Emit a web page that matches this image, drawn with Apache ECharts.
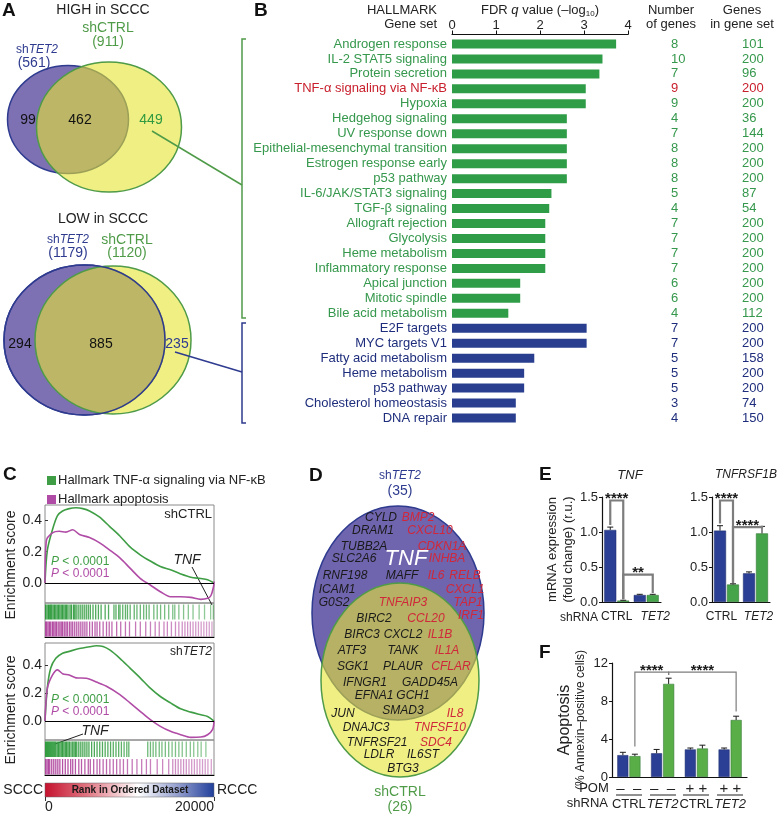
<!DOCTYPE html>
<html>
<head>
<meta charset="utf-8">
<script src="https://cdn.jsdelivr.net/npm/echarts@6/dist/echarts.min.js"></script>
<style>
  html, body { margin: 0; padding: 0; background: #fff; }
  #chart { width: 778px; height: 821px; }
</style>
</head>
<body>
<div id="chart"></div>
<script>
// ---------- panel A: venn counts
const highTotals = [561, 911];          // shTET2, shCTRL
const highParts = [99, 462, 449];       // TET2 only, both, CTRL only
const lowTotals = [1179, 1120];
const lowParts = [294, 885, 235];

// ---------- panel B: hallmark gene sets
const geneSets = ['Androgen response', 'IL-2 STAT5 signaling', 'Protein secretion', 'TNF-α signaling via NF-κB',
  'Hypoxia', 'Hedgehog signaling', 'UV response down', 'Epithelial-mesenchymal transition',
  'Estrogen response early', 'p53 pathway', 'IL-6/JAK/STAT3 signaling', 'TGF-β signaling',
  'Allograft rejection', 'Glycolysis', 'Heme metabolism', 'Inflammatory response', 'Apical junction',
  'Mitotic spindle', 'Bile acid metabolism', 'E2F targets', 'MYC targets V1', 'Fatty acid metabolism',
  'Heme metabolism', 'p53 pathway', 'Cholesterol homeostasis', 'DNA repair'];
const fdrLog = [3.73, 3.42, 3.35, 3.04, 3.04, 2.61, 2.61, 2.61, 2.61, 2.61, 2.26, 2.21, 2.12, 2.12, 2.12, 2.12,
  1.55, 1.55, 1.28, 3.06, 3.06, 1.87, 1.64, 1.64, 1.45, 1.45];
const setGroup = ['high', 'high', 'high', 'high', 'high', 'high', 'high', 'high', 'high', 'high', 'high', 'high',
  'high', 'high', 'high', 'high', 'high', 'high', 'high', 'low', 'low', 'low', 'low', 'low', 'low', 'low'];
const nGenes = [8, 10, 7, 9, 9, 4, 7, 8, 8, 8, 5, 4, 7, 7, 7, 7, 6, 6, 4, 7, 7, 5, 5, 5, 3, 4];
const setSize = [101, 200, 96, 200, 200, 36, 144, 200, 200, 200, 87, 54, 200, 200, 200, 200, 200, 200, 112,
  200, 200, 158, 200, 200, 74, 150];
const highlightSet = 3;

// ---------- panel C: running enrichment scores [rank, ES]
const esTnfCtrl = [[0, 0], [280, 0.21], [880, 0.34], [1480, 0.43], [2080, 0.46], [2870, 0.475], [3670, 0.48],
  [4470, 0.475], [5270, 0.46], [6470, 0.42], [7660, 0.36], [8860, 0.30], [10060, 0.23], [11260, 0.18],
  [12460, 0.14], [13650, 0.105], [14850, 0.084], [16050, 0.058], [17250, 0.037], [18440, 0.028],
  [19240, 0.02], [20000, 0]];
const esApoCtrl = [[0, 0], [160, 0.27], [880, 0.32], [1680, 0.33], [2480, 0.325], [3280, 0.34], [4080, 0.31],
  [5270, 0.29], [6470, 0.256], [7660, 0.21], [8860, 0.16], [10060, 0.095], [11260, 0.03], [12460, -0.013],
  [13650, -0.056], [14850, -0.088], [16050, -0.088], [17250, -0.092], [18440, -0.105], [19240, -0.098],
  [19640, -0.08], [19960, -0.02], [20000, 0.01]];
const esTnfTet2 = [[0, 0], [280, 0.24], [680, 0.38], [1280, 0.45], [2080, 0.486], [2870, 0.50], [4070, 0.52],
  [5270, 0.533], [6070, 0.54], [6870, 0.535], [7660, 0.51], [8860, 0.45], [10060, 0.38], [11260, 0.31],
  [12460, 0.236], [13650, 0.176], [14850, 0.13], [16050, 0.088], [17250, 0.064], [18440, 0.045],
  [19240, 0.033], [20000, 0]];
const esApoTet2 = [[0, 0], [280, 0.236], [880, 0.33], [1480, 0.367], [2080, 0.34], [2870, 0.33], [3670, 0.31],
  [4870, 0.307], [6070, 0.28], [7270, 0.25], [8860, 0.19], [10060, 0.13], [11260, 0.07], [12460, 0.01],
  [13650, -0.038], [14850, -0.074], [16050, -0.098], [17250, -0.117], [18440, -0.115], [19240, -0.098],
  [19840, -0.06], [20000, 0]];

// gene hit positions (rank)
const hitsTnfCtrl = [80, 240, 400, 560, 680, 800, 960, 1120, 1280, 1440, 1600, 1760, 1920, 2080, 2240, 2400, 2560,
  2720, 2960, 3120, 3360, 3520, 3680, 3920, 4160, 4400, 4640, 4880, 5120, 5360, 5680, 6000, 6320, 6640, 7120,
  7520, 8160, 8400, 8720, 8880, 9200, 9520, 9760, 10080, 10560, 10880, 11280, 11680, 12000, 12320, 12880,
  13280, 13680, 14160, 14640, 15120, 15360, 15840, 16400, 16960, 17520, 18240, 18880, 19600, 19920];
const hitsApoCtrl = [80, 200, 360, 520, 680, 880, 1040, 1200, 1360, 1560, 1760, 1920, 2080, 2280, 2480, 2640,
  2880, 3080, 3280, 3520, 3760, 4000, 4240, 4480, 4720, 4960, 5280, 5600, 5920, 6160, 6480, 6880, 7280, 7600,
  7920, 8480, 8960, 9520, 10000, 10720, 11280, 11920, 12480, 13040, 13520, 14080, 14480, 14960, 15440, 15840,
  16240, 16560, 16880, 17200, 17520, 17840, 18160, 18480, 18800, 19120, 19440, 19760];
const hitsTnfTet2 = [80, 200, 320, 440, 560, 680, 800, 920, 1040, 1160, 1280, 1440, 1600, 1760, 1920, 2080,
  2240, 2400, 2560, 2720, 2880, 3080, 3280, 3440, 3600, 3760, 4000, 4240, 4480, 4720, 4960, 5200, 5520, 5840,
  6160, 6480, 6800, 7120, 7440, 7760, 8080, 8400, 8720, 9040, 9360, 9680, 9920, 12160, 12480, 12800, 13120,
  13520, 13840, 14240, 14640, 15040, 15440, 15840, 16240, 16720, 17200, 17600, 18080, 18480, 19040];
const hitsApoTet2 = [80, 240, 400, 560, 800, 1040, 1280, 1520, 1760, 2080, 2400, 2720, 3040, 3280, 3600, 4000,
  4320, 4720, 5120, 5360, 5760, 6160, 6480, 6880, 7280, 7680, 8080, 8480, 8880, 9280, 9760, 10320, 10880,
  11440, 12000, 12480, 13280, 13920, 14640, 15120, 15440, 15760, 16080, 16400, 16720, 17040, 17360, 17680,
  18000, 18320, 18640, 18960, 19280, 19680];

// ---------- panel D: overlapping TNF-α/NF-κB genes
const dGenes = ['CYLD', 'BMP2', 'DRAM1', 'CXCL10', 'TUBB2A', 'CDKN1A', 'SLC2A6', 'TNF', 'INHBA', 'RNF198', 'MAFF',
  'IL6', 'RELB', 'ICAM1', 'CXCL1', 'G0S2', 'TNFAIP3', 'TAP1', 'BIRC2', 'CCL20', 'IRF1', 'BIRC3', 'CXCL2', 'IL1B',
  'ATF3', 'TANK', 'IL1A', 'SGK1', 'PLAUR', 'CFLAR', 'IFNGR1', 'GADD45A', 'EFNA1', 'GCH1', 'SMAD3', 'JUN', 'IL8',
  'DNAJC3', 'TNFSF10', 'TNFRSF21', 'SDC4', 'LDLR', 'IL6ST', 'BTG3'];
const dRedGenes = ['BMP2', 'CXCL10', 'CDKN1A', 'INHBA', 'IL6', 'RELB', 'CXCL1', 'TNFAIP3', 'TAP1', 'CCL20', 'IRF1',
  'IL1B', 'IL1A', 'CFLAR', 'IL8', 'TNFSF10', 'SDC4'];
const dTotals = [35, 26];

// ---------- panel E: qPCR
const eCats = ['CTRL', 'TET2'];
const tnfBlue = [1.03, 0.10], tnfBlueErr = [0.04, 0.01];
const tnfGreen = [0.02, 0.10], tnfGreenErr = [0.005, 0.01];
const tnfrBlue = [1.02, 0.41], tnfrBlueErr = [0.07, 0.02];
const tnfrGreen = [0.25, 0.98], tnfrGreenErr = [0.01, 0.10];

// ---------- panel F: apoptosis
const fCats = ['CTRL', 'TET2', 'CTRL', 'TET2'];
const fPom = ['–  –', '–  –', '+ +', '+ +'];
const apoBlue = [2.3, 2.5, 2.9, 2.9], apoBlueErr = [0.3, 0.4, 0.15, 0.15];
const apoGreen = [2.2, 9.8, 3.0, 6.0], apoGreenErr = [0.2, 0.6, 0.35, 0.4];

// significance brackets: [cat0, side0, cat1, side1, top, leftEnd, rightEnd]
const tnfBrackets = [[0, -1, 0, 1, 1.45, 1.1, 0.04], [0, 1, 1, 1, 0.39, 0.04, 0.13]];
const tnfBracketLabels = ['****', '**'];
const tnfrBrackets = [[0, -1, 0, 1, 1.45, 1.12, 0.27], [0, 1, 1, 1, 1.07, 0.27, 1.09]];
const tnfrBracketLabels = ['****', '****'];
const apoBrackets = [[0, 1, 1, 1, 11.05, 3.2, 10.75], [1, 1, 3, 1, 11.05, 10.75, 6.9]];
const apoBracketLabels = ['****', '****'];

// ---------------------------------------------------------------
const FONT = '"Liberation Sans", Arial, Helvetica, sans-serif';
const GREEN = '#2f9c48', BLUE = '#293e8f', RED = '#c8202d';
const GREEN_TXT = '#35984c', BLUE_TXT = '#1f2e7c';
const LINE_G = '#3f9e45', LINE_P = '#b04ca6';
const BAR_B = '#2b3f94', BAR_G = '#45a449';

function rowColor(i) {
  if (i === highlightSet) return RED;
  return setGroup[i] === 'high' ? GREEN_TXT : BLUE_TXT;
}

function txt(text, x, y, opt, rotation) {
  return {
    type: 'text', x: x, y: y, rotation: rotation || 0, silent: true,
    style: Object.assign({ text: text, fontFamily: FONT, fontSize: 13, fill: '#222', align: 'center', verticalAlign: 'middle' }, opt || {})
  };
}
function line(x1, y1, x2, y2, color, w) {
  return { type: 'line', silent: true, shape: { x1, y1, x2, y2 }, style: { stroke: color, lineWidth: w || 1 } };
}
function ell(cx, cy, rx, ry, fill, stroke, w) {
  return { type: 'ellipse', silent: true, shape: { cx, cy, rx, ry }, style: { fill: fill, stroke: stroke, lineWidth: w || 1.5 } };
}
function letter(l, x, y) {
  return txt(l, x, y, { fontSize: 19, fontWeight: 'bold', fill: '#111', align: 'left' });
}
const shTet2Rich = { a: { fontFamily: FONT }, b: { fontFamily: FONT, fontStyle: 'italic' } };
const pRich = { i: { fontStyle: 'italic', fontFamily: FONT }, t: { fontFamily: FONT } };

// ---------- venn / annotation graphics
const YELLOW_A = 'rgba(230,228,50,0.6)';
const graphics = [
  letter('A', 2, 11), letter('B', 254, 11), letter('C', 3, 475), letter('D', 309, 476),
  letter('E', 539, 475), letter('F', 539, 653),

  // A high
  txt('HIGH in SCCC', 103, 10, { fontSize: 14 }),
  ell(68, 119.5, 60.5, 54, '#7d71b4', '#2e3b8f'),
  ell(109, 127, 72.5, 65, YELLOW_A, '#4f9b48'),
  txt('shCTRL', 108, 28, { fontSize: 14, fill: '#4f9b48' }),
  txt('(' + highTotals[1] + ')', 108, 42, { fontSize: 14, fill: '#4f9b48' }),
  txt('{a|sh}{b|TET2}', 37, 50, { fontSize: 14, fill: '#2e3b8f', rich: shTet2Rich }),
  txt('(' + highTotals[0] + ')', 34, 63, { fontSize: 14, fill: '#2e3b8f' }),
  txt(String(highParts[0]), 28, 120, { fontSize: 14, fill: '#111' }),
  txt(String(highParts[1]), 80, 120, { fontSize: 14, fill: '#111' }),
  txt(String(highParts[2]), 151, 120, { fontSize: 14, fill: '#2f9a3f' }),
  line(152, 131, 242, 185, '#4f9b48', 1.5),

  // A low
  txt('LOW in SCCC', 103, 219, { fontSize: 14 }),
  ell(84.5, 340, 80.5, 75, '#7d71b4', '#2e3b8f'),
  ell(113, 340, 78, 74, YELLOW_A, '#4f9b48'),
  ell(84.5, 340, 80.5, 75, null, '#2e3b8f'),
  txt('{a|sh}{b|TET2}', 68, 240, { fontSize: 14, fill: '#2e3b8f', rich: shTet2Rich }),
  txt('(' + lowTotals[0] + ')', 68, 253, { fontSize: 14, fill: '#2e3b8f' }),
  txt('shCTRL', 127, 240, { fontSize: 14, fill: '#4f9b48' }),
  txt('(' + lowTotals[1] + ')', 127, 253, { fontSize: 14, fill: '#4f9b48' }),
  txt(String(lowParts[0]), 20, 344, { fontSize: 14, fill: '#111' }),
  txt(String(lowParts[1]), 101, 344, { fontSize: 14, fill: '#111' }),
  txt(String(lowParts[2]), 177, 344, { fontSize: 14, fill: '#2e3b8f' }),
  line(175, 352, 242, 372, '#2e3b8f', 1.5),

  // B brackets + headers
  { type: 'polyline', silent: true, shape: { points: [[246, 39], [242, 39], [242, 318], [246, 318]] }, style: { stroke: '#4f9b48', lineWidth: 1.5, fill: null } },
  { type: 'polyline', silent: true, shape: { points: [[246, 323], [242, 323], [242, 423], [246, 423]] }, style: { stroke: '#2e3b8f', lineWidth: 1.5, fill: null } },
  txt('HALLMARK', 437, 10, { align: 'right' }),
  txt('Gene set', 437, 24, { align: 'right' }),
  txt('{t|FDR }{i|q}{t| value (–log}{s|10}{t|)}', 540, 10, {
    rich: {
      t: { fontSize: 13, fontFamily: FONT, fill: '#222', lineHeight: 16 },
      i: { fontSize: 13, fontFamily: FONT, fill: '#222', fontStyle: 'italic', lineHeight: 16 },
      s: { fontSize: 8, fontFamily: FONT, fill: '#222', lineHeight: 16, verticalAlign: 'bottom' }
    }
  }),
  txt('Number', 671, 10), txt('of genes', 671, 24),
  txt('Genes', 742, 10), txt('in gene set', 742, 24),

  // C annotations
  txt('{i|P}{t| < 0.0001}', 51, 562, { align: 'left', fontSize: 14, fill: LINE_G, rich: pRich }),
  txt('{i|P}{t| < 0.0001}', 51, 574, { align: 'left', fontSize: 14, fill: LINE_P, rich: pRich }),
  txt('{i|P}{t| < 0.0001}', 51, 700, { align: 'left', fontSize: 14, fill: LINE_G, rich: pRich }),
  txt('{i|P}{t| < 0.0001}', 51, 712, { align: 'left', fontSize: 14, fill: LINE_P, rich: pRich }),
  txt('shCTRL', 212, 514, { align: 'right' }),
  txt('{a|sh}{b|TET2}', 212, 652, { align: 'right', rich: shTet2Rich }),
  txt('TNF', 187, 560, { fontStyle: 'italic', fontSize: 14 }),
  line(192, 567, 212, 605, '#222', 1),
  txt('TNF', 95, 731, { fontStyle: 'italic', fontSize: 14 }),
  line(83, 734, 55, 744, '#222', 1),
  txt('Enrichment score', 11, 565, { fontSize: 14 }, Math.PI / 2),
  txt('Enrichment score', 11, 710, { fontSize: 14 }, Math.PI / 2),
  { type: 'rect', silent: true, shape: { x: 45, y: 783, width: 169, height: 14 },
    style: { stroke: '#666', lineWidth: 0.5, fill: { type: 'linear', x: 0, y: 0, x2: 1, y2: 0, colorStops: [
      { offset: 0, color: '#c5122e' }, { offset: 0.25, color: '#e07682' }, { offset: 0.55, color: '#ffffff' },
      { offset: 0.8, color: '#8c98ca' }, { offset: 1, color: '#203f9b' }] } } },
  txt('Rank in Ordered Dataset', 130, 790, { fontSize: 10, fontWeight: 'bold', fill: '#1a1a1a' }),
  txt('SCCC', 43, 790, { fontSize: 14, align: 'right' }),
  txt('RCCC', 217, 790, { fontSize: 14, align: 'left' }),

  // D venn
  ell(398, 613, 86, 107, '#6f64ae', '#2e3b8f'),
  ell(400, 680, 79, 97, YELLOW_A, '#4f9b48'),
  txt('{a|sh}{b|TET2}', 400, 476, { fontSize: 14, fill: '#2e3b8f', rich: shTet2Rich }),
  txt('(' + dTotals[0] + ')', 400, 491, { fontSize: 14, fill: '#2e3b8f' }),
  txt('shCTRL', 400, 792, { fontSize: 14, fill: '#4f9b48' }),
  txt('(' + dTotals[1] + ')', 400, 807, { fontSize: 14, fill: '#4f9b48' }),

  // E titles / labels
  txt('TNF', 630, 475, { fontStyle: 'italic', fontSize: 13 }),
  txt('TNFRSF1B', 777, 475, { fontStyle: 'italic', fontSize: 12, align: 'right' }),
  txt('shRNA', 598, 618, { align: 'right', fontSize: 12 }),

  // F labels
  txt('POM', 594, 788, { fontSize: 13 }),
  txt('shRNA', 608, 803, { align: 'right', fontSize: 13 }),
  line(616, 795, 642, 795, '#222', 1), line(650, 795, 676, 795, '#222', 1),
  line(683, 795, 709, 795, '#222', 1), line(717, 795, 743, 795, '#222', 1)
];

// D gene labels (placement only; names/colours from the arrays above)
const dLayout = [[381, 518], [418, 518], [373, 531], [430, 531], [364, 547], [442, 547], [354, 559], [406, 559],
  [447, 559], [345, 576], [402, 576], [436, 576], [465, 576], [337, 590], [465, 590], [334, 603], [403, 603],
  [468, 603], [374, 619], [426, 619], [471, 616], [362, 635], [403, 635], [440, 635], [352, 651], [403, 651],
  [447, 651], [353, 667], [403, 667], [451, 667], [365, 683], [430, 683], [374, 696], [413, 696], [403, 711],
  [343, 714], [455, 714], [366, 728], [440, 728], [377, 743], [436, 743], [379, 755], [423, 755], [403, 769]];
dGenes.forEach(function (g, i) {
  const big = g === 'TNF';
  graphics.push(txt(g, dLayout[i][0], dLayout[i][1], {
    fontStyle: 'italic', fontSize: big ? 22 : 12,
    fill: big ? '#ffffff' : (dRedGenes.indexOf(g) >= 0 ? '#d0283a' : '#1a1a1a')
  }));
});

// ---------- custom renderers
function hitSeries(xi, yi, tnf, apo) {
  const data = tnf.map(r => [r, 0]).concat(apo.map(r => [r, 1]));
  return {
    type: 'custom', xAxisIndex: xi, yAxisIndex: yi, silent: true, data: data, encode: { x: 0, y: 1 },
    renderItem: function (params, api) {
      const cs = params.coordSys;
      const rank = api.value(0), row = api.value(1);
      const x = api.coord([rank, 0])[0];
      const h = cs.height / 2;
      const y0 = cs.y + row * h + 1.5;
      return {
        type: 'line', shape: { x1: x, y1: y0, x2: x, y2: y0 + h - 2 },
        style: { stroke: row === 0 ? '#2e9a3c' : '#b0479f', lineWidth: 1.3, opacity: 1 - 0.5 * rank / 20000 }
      };
    }
  };
}

function errorSeries(xi, yi, blue, blueErr, green, greenErr, bw, gap) {
  const data = blue.map((v, i) => [i, v, blueErr[i], -1]).concat(green.map((v, i) => [i, v, greenErr[i], 1]));
  return {
    type: 'custom', xAxisIndex: xi, yAxisIndex: yi, silent: true, z: 4, data: data, encode: { x: 0, y: 1 },
    renderItem: function (params, api) {
      const c = api.value(0), v = api.value(1), e = api.value(2), s = api.value(3);
      const p0 = api.coord([c, v]), p1 = api.coord([c, v + e]);
      const x = p0[0] + s * (bw + gap) / 2;
      return {
        type: 'group', children: [
          { type: 'line', shape: { x1: x, y1: p0[1], x2: x, y2: p1[1] }, style: { stroke: '#1a1a1a', lineWidth: 1 } },
          { type: 'line', shape: { x1: x - 3, y1: p1[1], x2: x + 3, y2: p1[1] }, style: { stroke: '#1a1a1a', lineWidth: 1 } }
        ]
      };
    }
  };
}

function bracketSeries(xi, yi, items, labels, bw, gap, lw) {
  return {
    type: 'custom', xAxisIndex: xi, yAxisIndex: yi, silent: true, z: 5, data: items, encode: { x: 0, y: 4 },
    renderItem: function (params, api) {
      const half = (bw + gap) / 2;
      const xa = api.coord([api.value(0), 0])[0] + api.value(1) * half;
      const xb = api.coord([api.value(2), 0])[0] + api.value(3) * half;
      const yt = api.coord([0, api.value(4)])[1];
      const yl = api.coord([0, api.value(5)])[1];
      const yr = api.coord([0, api.value(6)])[1];
      return {
        type: 'group', children: [
          { type: 'polyline', shape: { points: [[xa, yl], [xa, yt], [xb, yt], [xb, yr]] }, style: { stroke: '#7d7d7d', lineWidth: lw, fill: null } },
          { type: 'text', x: (xa + xb) / 2, y: yt + 6, style: { text: labels[params.dataIndex], align: 'center', verticalAlign: 'bottom', fontSize: 15, fontWeight: 'bold', fill: '#1a1a1a', fontFamily: FONT } }
        ]
      };
    }
  };
}

// ---------- axes helpers
function esAxis(grid, min, max) {
  return {
    type: 'value', gridIndex: grid, min: min, max: max,
    axisLine: { show: false }, splitLine: { show: false },
    axisTick: { show: true, inside: true, length: 3, customValues: [0, 0.2, 0.4], lineStyle: { color: '#333' } },
    axisLabel: { customValues: [0, 0.2, 0.4], formatter: v => v.toFixed(1), fontSize: 14, color: '#222', margin: 3, fontFamily: FONT }
  };
}
function hiddenValue(grid, min, max) {
  return { type: 'value', gridIndex: grid, min: min, max: max, show: false, splitLine: { show: false } };
}
function barYAxis(grid, max, interval, fmt, name, nameGap, rich) {
  return {
    type: 'value', gridIndex: grid, min: 0, max: max, interval: interval,
    axisLine: { show: true, lineStyle: { color: '#111', width: 1.2 } },
    axisTick: { show: true, length: 3, lineStyle: { color: '#111' } },
    splitLine: { show: false },
    axisLabel: { fontSize: 13, color: '#222', margin: 4, formatter: fmt, fontFamily: FONT },
    name: name, nameLocation: 'middle', nameGap: nameGap,
    nameTextStyle: { fontSize: 13, color: '#222', lineHeight: 16, fontFamily: FONT, rich: rich }
  };
}
// labelShift spreads the two shRNA labels slightly apart, as in the figure
function catXAxis(grid, cats, labelShift, extra) {
  return Object.assign({
    type: 'category', gridIndex: grid,
    data: cats.map((c, i) => ({
      value: c,
      textStyle: {
        fontStyle: c === 'TET2' ? 'italic' : 'normal',
        padding: labelShift ? (i === 0 ? [0, labelShift[0], 0, 0] : [0, 0, 0, labelShift[1]]) : 0
      }
    })),
    axisLine: { show: true, lineStyle: { color: '#111', width: 1.2 } },
    axisTick: { show: false },
    axisLabel: { fontSize: 12, color: '#222', margin: 9, interval: 0, fontFamily: FONT }
  }, extra || {});
}

const zeroLine = { silent: true, symbol: 'none', label: { show: false }, lineStyle: { color: '#000', width: 1, type: 'solid' }, data: [{ yAxis: 0 }] };
const nameTnf = 'Hallmark TNF-α signaling via NF-κB', nameApo = 'Hallmark apoptosis';

const option = {
  animation: false,
  textStyle: { fontFamily: FONT },
  graphic: graphics,
  legend: {
    data: [nameTnf, nameApo], orient: 'vertical', left: 42, top: 469, itemWidth: 9, itemHeight: 9,
    itemGap: 6, icon: 'rect', selectedMode: false,
    textStyle: { fontSize: 13, color: '#222', fontFamily: FONT, padding: [0, 0, 0, -3] }
  },
  grid: [
    { left: 452, top: 36.5, width: 176, height: 389 },                                   // 0 B
    { left: 45, top: 505, width: 169, height: 98, show: true, borderColor: '#8a8a8a', borderWidth: 1 }, // 1 C ctrl ES
    { left: 45, top: 603, width: 169, height: 34, show: true, borderColor: '#8a8a8a', borderWidth: 1 }, // 2 C ctrl hits
    { left: 45, top: 643, width: 169, height: 97, show: true, borderColor: '#8a8a8a', borderWidth: 1 }, // 3 C tet2 ES
    { left: 45, top: 740, width: 169, height: 35, show: true, borderColor: '#8a8a8a', borderWidth: 1 }, // 4 C tet2 hits
    { left: 45, top: 783, width: 169, height: 14 },                                     // 5 colour bar
    { left: 602, top: 497, width: 59, height: 105 },                                    // 6 E TNF
    { left: 712, top: 497, width: 58, height: 105 },                                    // 7 E TNFRSF1B
    { left: 612, top: 663, width: 135, height: 114 }                                    // 8 F
  ],
  xAxis: [
    {
      type: 'value', gridIndex: 0, position: 'top', min: 0, max: 4, interval: 1, offset: 2,
      axisLine: { show: true, lineStyle: { color: '#111', width: 1.2 } },
      axisTick: { show: true, length: 4, lineStyle: { color: '#111' } },
      splitLine: { show: false },
      axisLabel: { fontSize: 13, color: '#222', margin: 3, fontFamily: FONT }
    },
    hiddenValue(1, 0, 20000),
    Object.assign(hiddenValue(2, 0, 20000), { show: true, position: 'top', axisLine: { show: true, lineStyle: { color: '#000', width: 1 } }, axisTick: { show: false }, axisLabel: { show: false } }),
    hiddenValue(3, 0, 20000),
    Object.assign(hiddenValue(4, 0, 20000), { show: true, position: 'top', axisLine: { show: true, lineStyle: { color: '#000', width: 1 } }, axisTick: { show: false }, axisLabel: { show: false } }),
    {
      type: 'value', gridIndex: 5, min: 0, max: 20000, interval: 20000,
      axisLine: { show: false }, splitLine: { show: false },
      axisTick: { show: true, length: 4, lineStyle: { color: '#333' } },
      axisLabel: { fontSize: 14, color: '#222', margin: 3, alignMinLabel: 'left', alignMaxLabel: 'right', fontFamily: FONT, formatter: v => String(v) }
    },
    catXAxis(6, eCats, [0, 18]),
    catXAxis(7, eCats, [10, 6]),
    catXAxis(8, fCats, null, {
      axisLabel: {
        interval: 0, margin: 4, color: '#222',
        formatter: (v, i) => '{p|' + fPom[i] + '}\n{' + (v === 'TET2' ? 'i' : 'n') + '|' + v + '}',
        rich: {
          p: { fontSize: 15, lineHeight: 15, color: '#222', fontFamily: FONT },
          n: { fontSize: 13, lineHeight: 17, color: '#222', fontFamily: FONT },
          i: { fontSize: 13, lineHeight: 17, color: '#222', fontStyle: 'italic', fontFamily: FONT }
        }
      }
    })
  ],
  yAxis: [
    {
      type: 'category', gridIndex: 0, inverse: true,
      data: geneSets.map((n, i) => ({ value: n, textStyle: { color: rowColor(i) } })),
      axisLine: { show: false }, axisTick: { show: false },
      axisLabel: { fontSize: 13, margin: 5, interval: 0, fontFamily: FONT }
    },
    {
      type: 'category', gridIndex: 0, inverse: true, position: 'right', offset: 0,
      data: nGenes.map((n, i) => ({ value: String(n), textStyle: { color: rowColor(i) } })),
      axisLine: { show: false }, axisTick: { show: false },
      axisLabel: { fontSize: 13, margin: 43, align: 'center', interval: 0, fontFamily: FONT }
    },
    {
      type: 'category', gridIndex: 0, inverse: true, position: 'right', offset: 0,
      data: setSize.map((n, i) => ({ value: String(n), textStyle: { color: rowColor(i) } })),
      axisLine: { show: false }, axisTick: { show: false },
      axisLabel: { fontSize: 13, margin: 114, align: 'center', interval: 0, fontFamily: FONT }
    },
    esAxis(1, -0.128, 0.498),
    hiddenValue(2, 0, 2),
    esAxis(3, -0.136, 0.56),
    hiddenValue(4, 0, 2),
    hiddenValue(5, 0, 1),
    barYAxis(6, 1.5, 0.5, v => v.toFixed(1), 'mRNA expression\n(fold change) (r.u.)', 16),
    barYAxis(7, 1.5, 0.5, v => v.toFixed(1), '', 20),
    barYAxis(8, 12, 4, v => String(v), '{a|Apoptosis}\n{b|(% Annexin–positive cells)}', 24, {
      a: { fontSize: 16, color: '#222', fontFamily: FONT, lineHeight: 18 },
      b: { fontSize: 12, color: '#222', fontFamily: FONT, lineHeight: 14 }
    })
  ],
  series: [
    {
      type: 'bar', xAxisIndex: 0, yAxisIndex: 0, barWidth: 9, silent: true,
      data: fdrLog.map((v, i) => ({ value: v, itemStyle: { color: setGroup[i] === 'high' ? GREEN : BLUE } }))
    },
    { type: 'line', name: nameTnf, xAxisIndex: 1, yAxisIndex: 3, data: esTnfCtrl, showSymbol: false, smooth: 0.3, silent: true,
      lineStyle: { color: LINE_G, width: 1.6 }, itemStyle: { color: LINE_G }, markLine: zeroLine, z: 3 },
    { type: 'line', name: nameApo, xAxisIndex: 1, yAxisIndex: 3, data: esApoCtrl, showSymbol: false, smooth: 0.3, silent: true,
      lineStyle: { color: LINE_P, width: 1.6 }, itemStyle: { color: LINE_P } },
    { type: 'line', name: nameTnf, xAxisIndex: 3, yAxisIndex: 5, data: esTnfTet2, showSymbol: false, smooth: 0.3, silent: true,
      lineStyle: { color: LINE_G, width: 1.6 }, itemStyle: { color: LINE_G }, markLine: zeroLine, z: 3 },
    { type: 'line', name: nameApo, xAxisIndex: 3, yAxisIndex: 5, data: esApoTet2, showSymbol: false, smooth: 0.3, silent: true,
      lineStyle: { color: LINE_P, width: 1.6 }, itemStyle: { color: LINE_P } },
    hitSeries(2, 4, hitsTnfCtrl, hitsApoCtrl),
    hitSeries(4, 6, hitsTnfTet2, hitsApoTet2),

    { type: 'bar', xAxisIndex: 6, yAxisIndex: 8, data: tnfBlue, barWidth: 12, barGap: '8%', silent: true, itemStyle: { color: BAR_B, borderColor: '#1c2a66', borderWidth: 0.5 } },
    { type: 'bar', xAxisIndex: 6, yAxisIndex: 8, data: tnfGreen, barWidth: 12, barGap: '8%', silent: true, itemStyle: { color: BAR_G, borderColor: '#2b6e2e', borderWidth: 0.5 } },
    errorSeries(6, 8, tnfBlue, tnfBlueErr, tnfGreen, tnfGreenErr, 12, 1),
    bracketSeries(6, 8, tnfBrackets, tnfBracketLabels, 12, 1, 2.2),

    { type: 'bar', xAxisIndex: 7, yAxisIndex: 9, data: tnfrBlue, barWidth: 12, barGap: '8%', silent: true, itemStyle: { color: BAR_B, borderColor: '#1c2a66', borderWidth: 0.5 } },
    { type: 'bar', xAxisIndex: 7, yAxisIndex: 9, data: tnfrGreen, barWidth: 12, barGap: '8%', silent: true, itemStyle: { color: BAR_G, borderColor: '#2b6e2e', borderWidth: 0.5 } },
    errorSeries(7, 9, tnfrBlue, tnfrBlueErr, tnfrGreen, tnfrGreenErr, 12, 1),
    bracketSeries(7, 9, tnfrBrackets, tnfrBracketLabels, 12, 1, 2.2),

    { type: 'bar', xAxisIndex: 8, yAxisIndex: 10, data: apoBlue, barWidth: 11, barGap: '10%', silent: true, itemStyle: { color: BAR_B, borderColor: '#1c2a66', borderWidth: 0.5 } },
    { type: 'bar', xAxisIndex: 8, yAxisIndex: 10, data: apoGreen, barWidth: 11, barGap: '10%', silent: true, itemStyle: { color: '#5aae48', borderColor: '#2b6e2e', borderWidth: 0.5 } },
    errorSeries(8, 10, apoBlue, apoBlueErr, apoGreen, apoGreenErr, 11, 1),
    bracketSeries(8, 10, apoBrackets, apoBracketLabels, 11, 1, 1.2)
  ]
};

const chart = echarts.init(document.getElementById('chart'));
chart.setOption(option);
</script>
</body>
</html>
